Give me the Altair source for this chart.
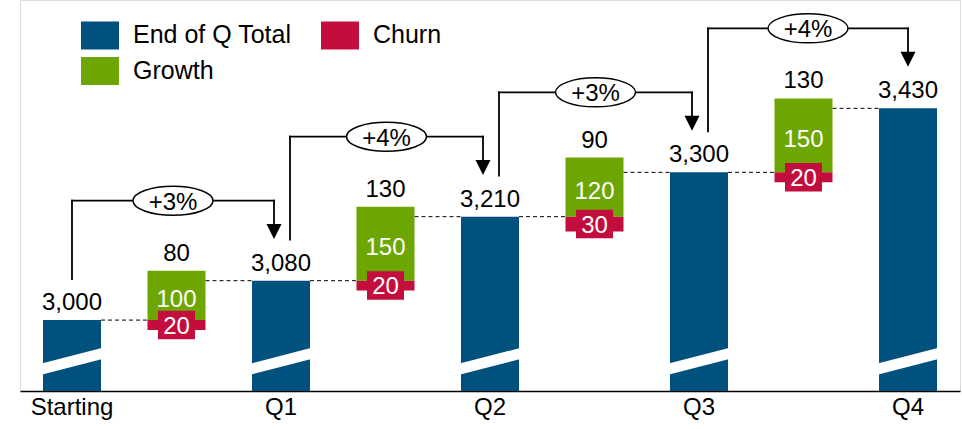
import altair as alt
import pandas as pd

# ---------------- data ----------------
quarters = ["Starting", "Q1", "Q2", "Q3", "Q4"]
totals = [3000, 3080, 3210, 3300, 3430]
growth = [100, 150, 120, 150]
churn = [20, 20, 30, 20]

change_cats = ["+" + q for q in quarters[1:]]
cats = []
for i, q in enumerate(quarters):
    if i > 0:
        cats.append(change_cats[i - 1])
    cats.append(q)

BLUE = "#00517D"
GREEN = "#6DA600"
RED = "#C30D3D"
FONT = "Liberation Sans"

bar_rows = []
for q, t in zip(quarters, totals):
    bar_rows.append(dict(cat=q, type="End of Q Total", lo=0, hi=t))
for i in range(len(growth)):
    base = totals[i]
    bar_rows.append(dict(cat=change_cats[i], type="Growth", lo=base, hi=base + growth[i]))
    bar_rows.append(dict(cat=change_cats[i], type="Churn", lo=base - churn[i], hi=base))
bars_df = pd.DataFrame(bar_rows)

tot_df = pd.DataFrame(dict(cat=quarters, total=totals))

chg_df = pd.DataFrame(dict(
    cat=change_cats,
    base=totals[:-1],
    growth=growth,
    churn=churn,
))
chg_df["gtop"] = chg_df["base"] + chg_df["growth"]
chg_df["gmid"] = chg_df["base"] + chg_df["growth"] / 2
chg_df["cmid"] = chg_df["base"] - chg_df["churn"] / 2
chg_df["net"] = chg_df["growth"] - chg_df["churn"]

conn_rows = []
for i in range(len(growth)):
    conn_rows.append(dict(src=quarters[i], dst=change_cats[i], level=totals[i]))
    conn_rows.append(dict(src=change_cats[i], dst=quarters[i + 1], level=totals[i + 1]))
conn_df = pd.DataFrame(conn_rows)

pcts = ["+%d%%" % round(100 * (totals[i + 1] - totals[i]) / totals[i]) for i in range(4)]
br_df = pd.DataFrame(dict(
    src=quarters[:-1], mid=change_cats, dst=quarters[1:],
    src_total=totals[:-1], dst_total=totals[1:], pct=pcts, k=list(range(4)),
))

# ---------------- scales ----------------
xscale = alt.Scale(domain=cats, paddingInner=0.445, paddingOuter=0.22)
xaxis = alt.Axis(
    title=None, ticks=False, grid=False, domainColor="black", domainWidth=1.5,
    labelFontSize=24, labelFont=FONT, labelColor="black", labelPadding=4,
    labelAngle=0, labelExpr="indexof(datum.label, '+') === 0 ? '' : datum.label",
)


def X(f):
    return alt.X(f"{f}:N", scale=xscale, axis=xaxis, sort=cats)


yscale = alt.Scale(domain=[2856, 3650], nice=False, zero=False)


def Y(f):
    return alt.Y(f"{f}:Q", scale=yscale, axis=None)


RECT_LEG = "M-1,-0.737L1,-0.737L1,0.737L-1,0.737Z"
RECT_BOX = "M-1,-0.77L1,-0.77L1,0.77L-1,0.77Z"
TRI = "M-1,-1L1,-1L0,1Z"
k = 0.5523
ry = 0.3625
ELL = (f"M-1,0C-1,{-k*ry:.4f},{-k:.4f},{-ry},0,{-ry}"
       f"C{k:.4f},{-ry},1,{-k*ry:.4f},1,0"
       f"C1,{k*ry:.4f},{k:.4f},{ry},0,{ry}"
       f"C{-k:.4f},{ry},-1,{k*ry:.4f},-1,0Z")

color = alt.Color(
    "type:N",
    scale=alt.Scale(domain=["End of Q Total", "Growth", "Churn"], range=[BLUE, GREEN, RED]),
    legend=alt.Legend(
        title=None, orient="none", legendX=61, legendY=16, columns=2,
        symbolType=RECT_LEG, symbolSize=38 * 38, symbolStrokeWidth=0, symbolOpacity=1,
        labelFontSize=25, labelFont=FONT, labelColor="black", labelOffset=14,
        columnPadding=29, rowPadding=2, labelLimit=400, padding=0,
    ),
)

# ---------------- layers ----------------
connectors = alt.Chart(conn_df).mark_rule(
    color="black", strokeWidth=1, strokeDash=[4, 3], xOffset=29, x2Offset=-29
).encode(x=X("src"), x2=alt.X2("dst:N"), y=Y("level"))

bars = alt.Chart(bars_df).mark_bar(clip=True).encode(
    x=X("cat"), y=Y("hi"), y2=alt.Y2("lo:Q"), color=color
)

stripes = alt.Chart(tot_df).mark_rule(
    color="white", strokeWidth=10.7, strokeCap="butt", xOffset=-33, x2Offset=33
).encode(x=X("cat"), x2=alt.X2("cat:N"), y=alt.value(369.8), y2=alt.value(352.8))

churn_box = alt.Chart(chg_df).mark_point(
    shape=RECT_BOX, size=37 * 37, filled=True, color=RED, opacity=1, strokeWidth=0
).encode(x=X("cat"), y=Y("cmid"))

txt = dict(font=FONT, fontSize=24, align="center", baseline="alphabetic")

total_lbl = alt.Chart(tot_df).mark_text(color="black", dy=-10, **txt).encode(
    x=X("cat"), y=Y("total"), text=alt.Text("total:Q", format=",")
)
net_lbl = alt.Chart(chg_df).mark_text(color="black", dy=-10, **txt).encode(
    x=X("cat"), y=Y("gtop"), text=alt.Text("net:Q")
)
growth_lbl = alt.Chart(chg_df).mark_text(color="white", dy=11.6, **txt).encode(
    x=X("cat"), y=Y("gmid"), text=alt.Text("growth:Q")
)
churn_lbl = alt.Chart(chg_df).mark_text(color="white", dy=8.6, **txt).encode(
    x=X("cat"), y=Y("cmid"), text=alt.Text("churn:Q")
)

LW = 1.8
HL = -80


def bracket(keys, dxs, dxe):
    base = alt.Chart(br_df).transform_filter(
        alt.FieldOneOfPredicate(field="k", oneOf=keys)
    )
    up = base.mark_rule(color="black", strokeWidth=LW, strokeCap="square",
                        xOffset=dxs, yOffset=-41, y2Offset=HL).encode(
        x=X("src"), y=Y("src_total"), y2=alt.Y2("dst_total:Q"))
    hor = base.mark_rule(color="black", strokeWidth=LW, strokeCap="square",
                         xOffset=dxs, x2Offset=dxe, yOffset=HL).encode(
        x=X("src"), x2=alt.X2("dst:N"), y=Y("dst_total"))
    down = base.mark_rule(color="black", strokeWidth=LW, strokeCap="square",
                          xOffset=dxe, yOffset=HL, y2Offset=-53).encode(
        x=X("dst"), y=Y("dst_total"), y2=alt.Y2("dst_total:Q"))
    head = base.mark_point(shape=TRI, size=225, filled=True, color="black", opacity=1,
                           strokeWidth=0, xOffset=dxe, yOffset=-49.2).encode(
        x=X("dst"), y=Y("dst_total"))
    ell = base.mark_point(shape=ELL, size=6400, filled=True, fill="white", stroke="black",
                          strokeWidth=1.5, opacity=1, xOffset=(dxs + dxe) / 2,
                          yOffset=HL).encode(x=X("mid"), y=Y("dst_total"))
    pl = base.mark_text(color="black", font=FONT, fontSize=24, align="center",
                        baseline="alphabetic", xOffset=(dxs + dxe) / 2,
                        yOffset=HL, dy=9).encode(
        x=X("mid"), y=Y("dst_total"), text="pct:N")
    return [up, hor, down, head, ell, pl]


layers = [connectors, bars, stripes, churn_box, total_lbl, net_lbl, growth_lbl, churn_lbl]
layers += bracket([0], 0, -7)
layers += bracket([1, 2], 9, -7)
layers += bracket([3], 9, 0)

chart = alt.layer(*layers).properties(
    width=940, height=391,
    autosize=alt.AutoSizeParams(type="none"),
    padding={"left": 20, "top": 0, "right": 2, "bottom": 38},
).configure_view(stroke=None).configure(font=FONT)

chart.save("out.html", embed_options={"renderer": "svg", "actions": False})
